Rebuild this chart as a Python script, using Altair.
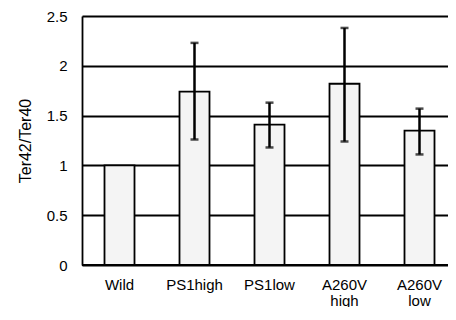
import altair as alt
import pandas as pd

categories = ["Wild", "PS1high", "PS1low", "A260V|high", "A260V|low"]
values = [1.0, 1.74, 1.41, 1.82, 1.35]
err_cats = ["PS1high", "PS1low", "A260V|high", "A260V|low"]
err_low = [1.26, 1.18, 1.24, 1.11]
err_high = [2.23, 1.63, 2.38, 1.57]

bars_df = pd.DataFrame({"cat": categories, "val": values})
err_df = pd.DataFrame({"cat": err_cats, "lo": err_low, "hi": err_high})

FONT = "Liberation Sans"
xscale = alt.Scale(paddingInner=0.6, paddingOuter=0.3, range=[0, 375])

x = alt.X(
    "cat:N",
    sort=categories,
    title=None,
    scale=xscale,
    axis=alt.Axis(
        labelExpr="split(datum.label, '|')",
        labelAngle=0,
        labelFont=FONT,
        labelFontSize=15,
        labelColor="black",
        labelPadding=12,
        labelLineHeight=16,
        tickSize=0,
        domain=False,
    ),
)

y = alt.Y(
    "val:Q",
    title="Ter42/Ter40",
    scale=alt.Scale(domain=[0, 2.5], nice=False),
    axis=alt.Axis(
        values=[0, 0.5, 1, 1.5, 2, 2.5],
        labelExpr="datum.value",
        grid=True,
        gridColor="black",
        gridWidth=1.8,
        gridOpacity=1,
        domainColor="black",
        domainWidth=1.8,
        tickSize=0,
        labelPadding=15,
        labelFont=FONT,
        labelFontSize=15,
        labelColor="black",
        titleFont=FONT,
        titleFontSize=16,
        titleFontWeight="normal",
        titleColor="black",
        titlePadding=13,
    ),
)

bars = alt.Chart(bars_df).mark_bar(
    fill="#f4f4f4", stroke="black", strokeWidth=1.8
).encode(x=x, y=y)

base0 = alt.Chart(bars_df).mark_rule(color="black", strokeWidth=2).encode(
    y=alt.datum(0)
)

rules = alt.Chart(err_df).mark_rule(color="black", strokeWidth=2.5).encode(
    x=alt.X("cat:N", sort=categories, scale=xscale), y="lo:Q", y2="hi:Q"
)
cap_hi = alt.Chart(err_df).mark_tick(color="black", size=8, thickness=2.5).encode(
    x=alt.X("cat:N", sort=categories, scale=xscale), y="hi:Q"
)
cap_lo = alt.Chart(err_df).mark_tick(color="black", size=8, thickness=2.5).encode(
    x=alt.X("cat:N", sort=categories, scale=xscale), y="lo:Q"
)

chart = (
    alt.layer(bars, base0, rules, cap_hi, cap_lo)
    .properties(
        width=366,
        height=249,
        autosize=alt.AutoSizeParams(type="none"),
        padding={"left": 74, "top": 8, "right": 0, "bottom": 42},
    )
    .configure_view(strokeWidth=0)
    .configure(background="white")
)

chart.save("out.html", embed_options={"renderer": "svg", "actions": False})
